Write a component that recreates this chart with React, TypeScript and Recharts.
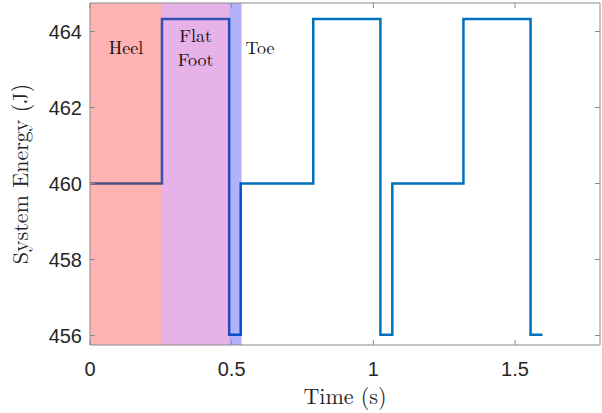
import { LineChart, Line, XAxis, YAxis, ReferenceArea, Label } from 'recharts';

// step times (s) and system energy (J)
const times = [0, 0.254, 0.491, 0.532, 0.788, 1.025, 1.067, 1.318, 1.555, 1.597];
const energy = [460, 464.33, 456.02, 460, 464.33, 456.02, 460, 464.33, 456.02, 456.02];

const xTicks = [0, 0.5, 1, 1.5];
const yTicks = [456, 458, 460, 462, 464];

// gait phases
const phaseNames = ['Heel', 'Flat Foot', 'Toe'];
const phaseStart = [0, 0.254, 0.491];
const phaseEnd = [0.254, 0.491, 0.535];
const phaseColors = ['#ff0000', '#b000b0', '#0000f0'];

const data = times.map((t, i) => ({ t, e: energy[i] }));

const serif = '"Latin Modern Roman", "Liberation Serif", "Times New Roman", serif';
const sans = '"Liberation Sans", Arial, Helvetica, sans-serif';
const boxColor = '#8a8a8a';

function PhaseLabel(props: any) {
  const { viewBox, value, index } = props;
  const { x, y, width } = viewBox;
  const style = { fontFamily: serif, fontSize: 18, fill: '#111' };
  if (index === 1) {
    const cx = x + width / 2;
    return (
      <text x={cx} y={y + 39} textAnchor="middle" style={style}>
        {value.split(' ').map((w: string, k: number) => (
          <tspan key={k} x={cx} dy={k === 0 ? 0 : 24}>
            {w}
          </tspan>
        ))}
      </text>
    );
  }
  if (index === 2) {
    return (
      <text x={x + width + 4} y={y + 51} style={style}>
        {value}
      </text>
    );
  }
  return (
    <text x={x + width / 2} y={y + 51} textAnchor="middle" style={style}>
      {value}
    </text>
  );
}

const NoTick = () => <g />;

export default function App() {
  const tickStyle = { fill: '#262626', fontSize: 20, fontFamily: sans };
  return (
    <div style={{ position: 'absolute', left: 0, top: 0, background: '#fff' }}>
      <LineChart width={602} height={413} data={data} margin={{ top: -17, right: -18, bottom: 0, left: 0 }}>
        <XAxis
          xAxisId="b"
          dataKey="t"
          type="number"
          domain={[0, 1.8]}
          ticks={xTicks}
          allowDataOverflow
          height={68}
          stroke={boxColor}
          tickSize={-5}
          tickMargin={22}
          tick={tickStyle}
        >
          <Label
            value="Time (s)"
            position="insideBottom"
            offset={9}
            style={{ fontFamily: serif, fontSize: 22, fill: '#262626' }}
          />
        </XAxis>
        <XAxis
          xAxisId="t"
          orientation="top"
          dataKey="t"
          type="number"
          domain={[0, 1.8]}
          ticks={xTicks}
          allowDataOverflow
          height={20}
          stroke={boxColor}
          tickSize={-5}
          tick={NoTick}
        />
        <YAxis
          yAxisId="l"
          type="number"
          domain={[455.75, 464.75]}
          ticks={yTicks}
          allowDataOverflow
          width={90}
          stroke={boxColor}
          tickSize={-5}
          tickMargin={13}
          tick={tickStyle}
        >
          <Label
            value="System Energy (J)"
            angle={-90}
            position="insideLeft"
            offset={20}
            style={{ fontFamily: serif, fontSize: 22, fill: '#262626', textAnchor: 'middle' }}
          />
        </YAxis>
        <YAxis
          yAxisId="r"
          orientation="right"
          type="number"
          domain={[455.75, 464.75]}
          ticks={yTicks}
          allowDataOverflow
          width={20}
          stroke={boxColor}
          tickSize={-5}
          tick={NoTick}
        />
        <Line
          xAxisId="b"
          yAxisId="l"
          type="stepAfter"
          dataKey="e"
          stroke="#0072bd"
          strokeWidth={2.5}
          dot={false}
          isAnimationActive={false}
        />
        {phaseNames.map((name, i) => (
          <ReferenceArea
            key={name}
            xAxisId="b"
            yAxisId="l"
            x1={phaseStart[i]}
            x2={phaseEnd[i]}
            y1={455.75}
            y2={464.75}
            fill={phaseColors[i]}
            fillOpacity={0.3}
            stroke="none"
            zIndex={450}
            ifOverflow="hidden"
            label={<PhaseLabel value={name} index={i} />}
          />
        ))}
      </LineChart>
    </div>
  );
}
